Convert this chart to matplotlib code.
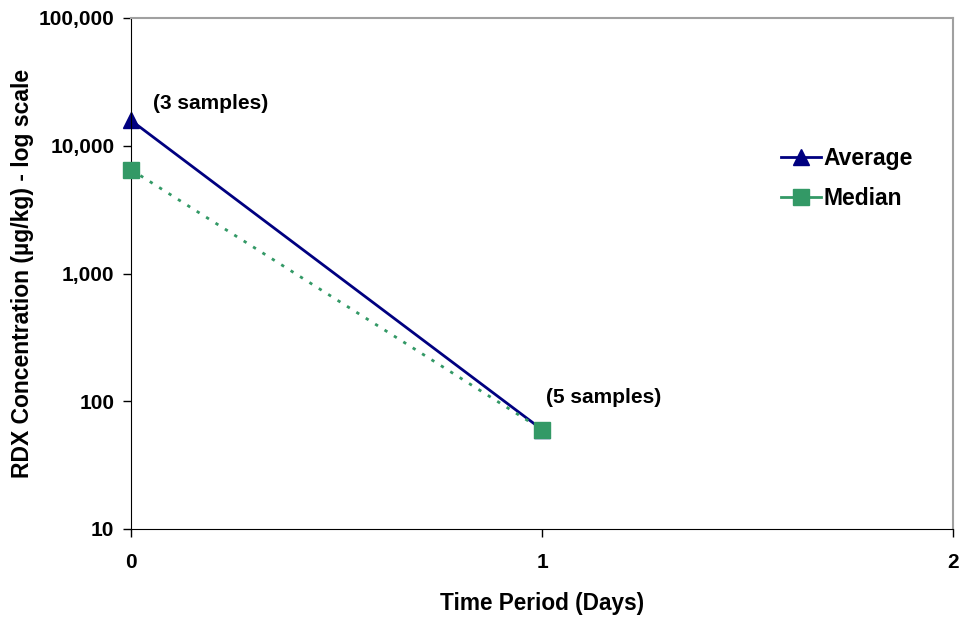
import matplotlib
matplotlib.use("Agg")
import matplotlib.pyplot as plt
from matplotlib.lines import Line2D
from matplotlib.ticker import FixedLocator, FuncFormatter, NullLocator

plt.rcParams['font.family'] = ['Liberation Sans', 'DejaVu Sans']
plt.rcParams['font.weight'] = 'bold'

# data
days = [0, 1]
average = [15800, 60]
median = [6500, 60]
sample_notes = ["(3 samples)", "(5 samples)"]
y_ticks = [10, 100, 1000, 10000, 100000]
x_ticks = [0, 1, 2]

navy = "#000080"
green = "#339966"

fig = plt.figure(figsize=(9.63, 6.2), dpi=100)
ax = fig.add_axes([131 / 963, 91 / 620, 822 / 963, 511 / 620])

ax.plot(days, average, color=navy, lw=2, marker="^", ms=11,
        zorder=3, clip_on=False)
ax.plot(days, median, color=green, lw=2, ls=(0, (1.2, 2.8)), marker="s",
        ms=11, zorder=5, clip_on=False)

ax.set_yscale("log")
ax.set_ylim(10, 100000)
ax.set_xlim(0, 2)
ax.yaxis.set_major_locator(FixedLocator(y_ticks))
ax.yaxis.set_minor_locator(NullLocator())
ax.yaxis.set_major_formatter(FuncFormatter(lambda v, p: f"{v:,.0f}"))
ax.set_xticks(x_ticks)

ax.tick_params(axis="both", direction="out", length=6, width=1, labelsize=15, color="black")
ax.tick_params(axis="x", pad=11)
ax.tick_params(axis="y", pad=6)
for lbl in ax.get_xticklabels() + ax.get_yticklabels():
    lbl.set_fontweight("bold")

ax.spines["left"].set_color("black")
ax.spines["bottom"].set_color("black")
ax.spines["top"].set_color("#a0a0a0")
ax.spines["right"].set_color("#a0a0a0")
ax.spines["top"].set_linewidth(1.5)
ax.spines["right"].set_linewidth(1.5)
for s in ax.spines.values():
    s.set_zorder(4)

ax.set_xlabel("Time Period (Days)", fontsize=16.3, fontweight="bold", labelpad=15)
ax.set_ylabel("RDX Concentration (\u00b5g/kg) - log scale", fontsize=16.5,
              fontweight="bold", labelpad=3)

ax.annotate(sample_notes[0], (days[0], average[0]), xytext=(16, 12),
            textcoords="offset points", fontsize=15, fontweight="bold", va="center")
ax.annotate(sample_notes[1], (days[1], average[1]), xytext=(3, 23),
            textcoords="offset points", fontsize=15, fontweight="bold", va="center")

handles = [Line2D([], [], color=navy, lw=2, marker="^", ms=11),
           Line2D([], [], color=green, lw=2, marker="s", ms=11)]
leg = ax.legend(handles, ["Average", "Median"], loc="upper left",
                bbox_to_anchor=(0.766, 0.788), frameon=False, fontsize=16.5,
                handlelength=1.75, handletextpad=0.1, labelspacing=0.75)
for t in leg.get_texts():
    t.set_fontweight("bold")

fig.savefig("out.png", dpi=100)
